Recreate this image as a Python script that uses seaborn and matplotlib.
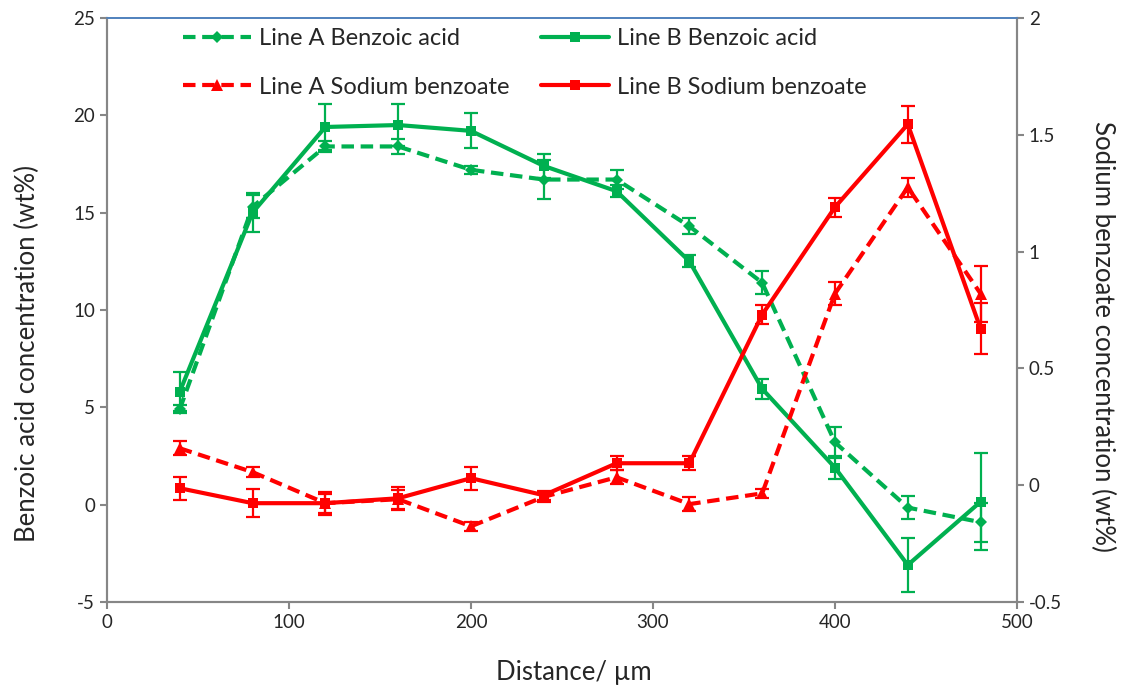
import numpy as np
import pandas as pd
import matplotlib
matplotlib.use("Agg")
import matplotlib.pyplot as plt
import seaborn as sns

# data
distance = [40, 80, 120, 160, 200, 240, 280, 320, 360, 400, 440, 480]

benzoic_a = [4.9, 15.3, 18.4, 18.4, 17.2, 16.7, 16.7, 14.3, 11.4, 3.2, -0.15, -0.9]
benzoic_a_err = [0.2, 0.6, 0.3, 0.4, 0.2, 1.0, 0.5, 0.4, 0.6, 0.8, 0.6, 1.0]
benzoic_b = [5.8, 15.0, 19.4, 19.5, 19.2, 17.4, 16.1, 12.5, 5.95, 1.9, -3.1, 0.15]
benzoic_b_err = [1.0, 1.0, 1.2, 1.1, 0.9, 0.6, 0.3, 0.3, 0.5, 0.6, 1.4, 2.5]

sodium_a = [0.158, 0.056, -0.077, -0.06, -0.176, -0.05, 0.034, -0.081, -0.035, 0.82, 1.275, 0.82]
sodium_a_err = [0.03, 0.02, 0.05, 0.04, 0.02, 0.02, 0.03, 0.03, 0.02, 0.05, 0.04, 0.12]
sodium_b = [-0.013, -0.077, -0.077, -0.056, 0.03, -0.043, 0.094, 0.094, 0.73, 1.19, 1.545, 0.67]
sodium_b_err = [0.05, 0.06, 0.04, 0.05, 0.05, 0.02, 0.03, 0.03, 0.04, 0.04, 0.08, 0.11]

green = "#00B050"
red = "#FF0000"

sns.set_style("ticks")
plt.rcParams["font.family"] = ["Lato", "DejaVu Sans"]
plt.rcParams["axes.unicode_minus"] = False

fig, ax = plt.subplots(figsize=(11.33, 6.91), dpi=100)
fig.subplots_adjust(left=0.0944, right=0.8976, top=0.974, bottom=0.1288)
ax2 = ax.twinx()

def draw(axis, y, err, color, dashed, marker, ms, label):
    df = pd.DataFrame({"x": distance, "y": y})
    axis.errorbar(distance, y, yerr=err, fmt="none", ecolor=color, elinewidth=1.6,
                  capsize=5, capthick=1.6, zorder=2)
    sns.lineplot(data=df, x="x", y="y", ax=axis, color=color, lw=3,
                 linestyle=(0, (3, 1.6)) if dashed else "-", marker=marker,
                 markersize=ms, markeredgewidth=0, label=label, zorder=3)

draw(ax, benzoic_a, benzoic_a_err, green, True, "D", 6, "Line A Benzoic acid")
draw(ax, benzoic_b, benzoic_b_err, green, False, "s", 7.5, "Line B Benzoic acid")
draw(ax2, sodium_a, sodium_a_err, red, True, "^", 8, "Line A Sodium benzoate")
draw(ax2, sodium_b, sodium_b_err, red, False, "s", 7, "Line B Sodium benzoate")

ax.set_xlim(0, 500)
ax.set_ylim(-5, 25)
ax2.set_ylim(-0.5, 2)
ax.set_xticks([0, 100, 200, 300, 400, 500])
ax.set_yticks([-5, 0, 5, 10, 15, 20, 25])
ax2.set_yticks([-0.5, 0, 0.5, 1, 1.5, 2])
ax2.set_yticklabels(["-0.5", "0", "0.5", "1", "1.5", "2"])

ax.set_xlabel("Distance/ µm", fontsize=18.5, labelpad=21)
ax.set_ylabel("Benzoic acid concentration (wt%)", fontsize=18.5, labelpad=24)
ax2.set_ylabel("Sodium benzoate concentration (wt%)", fontsize=18.5, rotation=270, labelpad=38)
ax.xaxis.label.set_x(0.513)
ax.yaxis.label.set_y(0.425)
ax2.yaxis.label.set_y(0.454)

for a in (ax, ax2):
    a.tick_params(labelsize=13.5, color="#868686", width=1.5, length=5)
    for s in a.spines.values():
        s.set_color("#868686")
        s.set_linewidth(1.5)
    a.spines["top"].set_visible(True)
    a.spines["top"].set_color("#4F81BD")
    a.spines["top"].set_linewidth(1.2)
    a.spines["right"].set_visible(True)

ax.get_legend().remove()
ax2.get_legend().remove()
h1, l1 = ax.get_legend_handles_labels()
h2, l2 = ax2.get_legend_handles_labels()
handles = [h1[0], h2[0], h1[1], h2[1]]
labels = [l1[0], l2[0], l1[1], l2[1]]
ax2.legend(handles, labels, ncol=2, loc="upper left", bbox_to_anchor=(0.06, 1.019),
           frameon=False, fontsize=17, handlelength=2.9, columnspacing=1.3,
           labelspacing=1.17, handletextpad=0.34)

fig.savefig("out.png", dpi=100)
